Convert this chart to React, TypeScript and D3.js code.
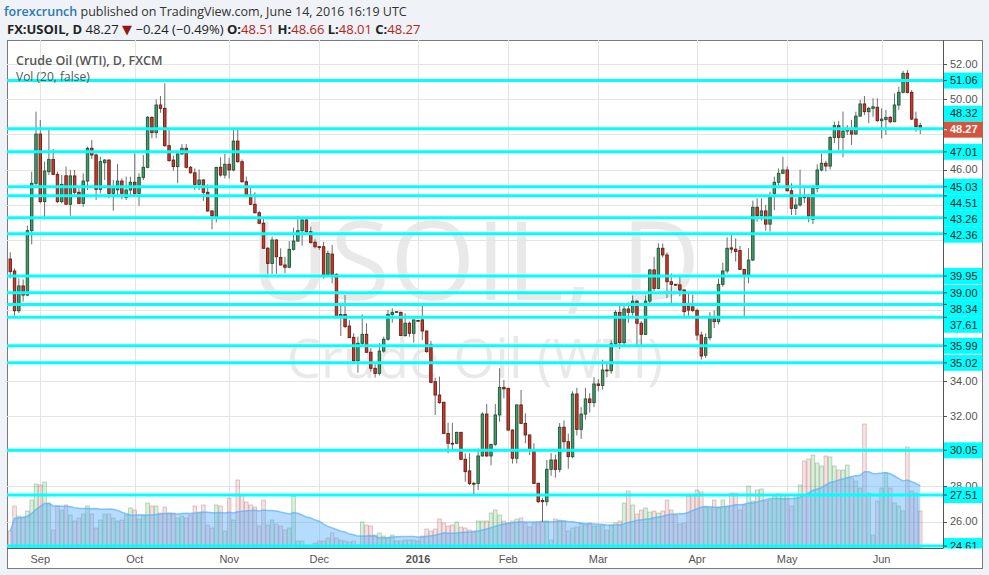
import React from 'react';
import * as d3 from 'd3';

// FX:USOIL daily candles, Aug 21 2015 .. Jun 14 2016
const opens = [
  40.92, 40.24, 37.98, 39.39, 38.87, 42.53, 45.22, 48.02, 44.18, 45.88,
  46.58, 45.73, 44.18, 45.65, 44.03, 45.64, 44.71, 44.08, 45.35, 47.21,
  46.83, 44.88, 46.39, 46.54, 44.65, 44.85, 45.35, 44.42, 44.84, 45.28,
  44.65, 45.56, 46.13, 48.97, 48.10, 49.67, 49.48, 47.36, 46.54, 46.17,
  46.89, 47.21, 46.13, 45.82, 45.16, 45.41, 44.71, 43.65, 43.32, 46.13,
  45.69, 46.30, 45.98, 47.62, 46.45, 45.31, 44.56, 44.03, 43.55, 42.95,
  41.53, 40.67, 42.00, 41.01, 40.58, 40.45, 41.47, 41.94, 42.53, 43.14,
  42.47, 41.87, 41.62, 41.62, 40.01, 41.20, 40.05, 37.64, 37.77, 37.11,
  36.47, 35.14, 36.13, 36.64, 35.62, 34.71, 34.42, 35.69, 36.36, 37.77,
  37.89, 37.89, 36.57, 37.27, 36.70, 37.43, 37.46, 36.83, 36.07, 33.95,
  33.19, 32.78, 31.01, 30.45, 30.45, 31.07, 29.54, 28.88, 28.17, 28.17,
  29.73, 32.11, 29.73, 30.39, 32.06, 33.63, 33.57, 31.20, 29.60, 32.63,
  31.58, 30.92, 30.03, 28.18, 27.20, 27.13, 28.97, 29.50, 28.97, 31.36,
  30.54, 29.69, 33.25, 31.24, 32.11, 32.97, 32.76, 33.82, 33.74, 34.61,
  34.57, 36.10, 37.89, 36.17, 38.08, 37.89, 38.53, 37.27, 36.64, 38.53,
  40.30, 39.25, 41.53, 41.15, 39.63, 39.48, 39.45, 39.16, 38.25, 38.20,
  38.00, 36.60, 35.45, 36.45, 37.55, 37.36, 39.48, 40.24, 41.55, 41.48,
  41.40, 40.33, 40.01, 40.86, 43.86, 43.38, 43.65, 42.90, 44.65, 45.28,
  45.79, 45.98, 44.80, 43.80, 43.99, 44.46, 44.46, 43.17, 44.94, 45.98,
  46.36, 46.20, 47.83, 48.50, 47.83, 48.19, 48.29, 48.02, 49.04, 49.73,
  49.29, 49.48, 49.54, 48.78, 48.85, 48.97, 48.72, 49.67, 50.39, 51.47,
  50.39, 48.87, 48.51,
];
const highs = [
  41.30, 40.39, 39.82, 39.76, 42.81, 45.88, 49.29, 48.82, 46.45, 48.25,
  47.17, 45.88, 45.69, 46.17, 45.98, 45.98, 45.03, 45.79, 47.30, 47.68,
  46.92, 46.73, 46.60, 46.60, 45.41, 46.32, 45.50, 45.60, 45.60, 46.92,
  45.79, 46.83, 49.05, 49.01, 49.99, 50.18, 50.90, 48.25, 46.79, 46.92,
  47.45, 47.45, 46.20, 46.07, 46.01, 45.45, 45.16, 43.70, 46.15, 46.70,
  46.89, 46.68, 48.25, 48.25, 46.58, 45.60, 44.97, 44.71, 43.65, 43.23,
  41.60, 42.19, 42.05, 41.53, 41.05, 41.94, 42.70, 43.38, 43.17, 43.23,
  42.76, 42.04, 41.65, 41.90, 41.40, 41.72, 40.10, 38.44, 38.87, 37.45,
  36.70, 36.51, 37.78, 37.27, 35.85, 34.94, 36.13, 36.51, 38.02, 38.12,
  37.95, 37.93, 37.83, 37.36, 37.46, 37.45, 38.25, 36.85, 36.26, 34.18,
  34.24, 32.80, 31.62, 31.62, 31.11, 31.10, 29.88, 29.88, 28.27, 30.16,
  32.21, 32.68, 30.40, 32.68, 34.71, 34.05, 33.60, 31.25, 32.65, 33.48,
  32.15, 30.95, 30.45, 28.20, 27.35, 29.50, 29.90, 29.80, 31.60, 31.75,
  31.00, 33.40, 33.60, 32.50, 33.60, 33.30, 34.20, 34.10, 35.20, 35.00,
  36.30, 38.00, 38.30, 38.40, 38.45, 38.85, 38.60, 37.40, 38.85, 40.35,
  41.05, 41.81, 41.80, 41.30, 40.10, 39.50, 40.00, 39.20, 39.00, 38.90,
  38.10, 36.80, 36.70, 37.90, 38.00, 39.80, 40.71, 42.15, 42.28, 42.10,
  41.66, 40.33, 41.53, 44.24, 44.37, 44.37, 43.99, 44.75, 45.60, 46.07,
  46.73, 46.17, 45.22, 44.37, 46.00, 45.00, 44.60, 45.10, 46.30, 46.90,
  46.50, 47.90, 48.72, 48.76, 49.30, 48.53, 48.82, 49.29, 49.96, 50.18,
  49.57, 50.05, 50.05, 49.48, 49.39, 49.04, 50.33, 50.71, 51.62, 51.66,
  50.52, 49.29, 48.66,
];
const lows = [
  39.82, 37.70, 37.85, 38.50, 38.80, 41.75, 45.03, 44.08, 43.17, 45.69,
  45.69, 44.10, 44.08, 44.00, 43.38, 44.56, 44.05, 43.89, 44.84, 46.60,
  44.27, 44.65, 45.41, 44.37, 43.67, 44.46, 44.31, 44.27, 44.56, 44.56,
  43.95, 45.41, 46.07, 47.78, 47.78, 49.23, 47.30, 46.45, 45.94, 45.22,
  46.85, 46.07, 45.78, 44.84, 44.84, 44.23, 43.60, 42.61, 43.00, 45.60,
  45.50, 45.50, 45.90, 46.40, 45.25, 44.46, 43.98, 43.50, 42.90, 41.50,
  40.07, 40.07, 40.07, 40.55, 40.11, 40.40, 41.40, 41.90, 41.68, 42.28,
  41.81, 41.53, 41.43, 39.82, 39.95, 39.54, 37.55, 36.54, 37.00, 36.45,
  35.09, 34.46, 36.00, 35.60, 34.52, 34.18, 34.30, 35.60, 36.28, 37.30,
  37.85, 36.55, 36.50, 36.50, 36.17, 37.40, 36.32, 35.60, 33.90, 32.06,
  32.70, 31.00, 29.88, 30.07, 30.40, 29.50, 28.27, 28.08, 27.51, 27.80,
  29.70, 29.68, 29.20, 30.30, 31.68, 33.00, 31.18, 29.30, 29.30, 31.58,
  30.45, 29.78, 28.17, 27.05, 25.99, 26.90, 28.60, 28.50, 28.80, 30.00,
  29.00, 29.60, 30.90, 30.70, 31.80, 32.20, 32.50, 33.40, 33.50, 34.20,
  34.40, 35.95, 35.80, 36.00, 37.30, 37.70, 36.03, 36.03, 36.60, 38.40,
  39.10, 39.20, 41.00, 38.70, 38.40, 39.40, 38.80, 37.60, 37.70, 37.90,
  36.30, 35.20, 35.30, 36.30, 37.00, 37.20, 39.35, 40.10, 41.24, 40.77,
  40.30, 37.68, 39.54, 40.80, 43.04, 43.10, 42.53, 42.47, 43.70, 44.94,
  45.75, 44.75, 43.42, 43.42, 43.90, 44.10, 43.00, 42.90, 44.70, 45.90,
  45.90, 46.00, 47.50, 47.10, 46.70, 47.97, 47.40, 47.97, 49.00, 49.10,
  48.63, 49.00, 48.72, 47.77, 47.97, 48.63, 48.72, 49.39, 50.33, 50.33,
  48.82, 48.15, 48.01,
];
const closes = [
  40.20, 37.98, 39.39, 38.87, 42.53, 45.22, 48.02, 44.18, 45.92, 46.58,
  45.73, 44.18, 45.16, 44.03, 45.64, 44.71, 44.08, 45.35, 47.21, 46.83,
  44.88, 46.45, 46.54, 44.65, 45.03, 45.35, 44.65, 44.84, 45.28, 44.65,
  45.56, 46.13, 48.97, 48.10, 49.67, 49.48, 47.36, 46.51, 46.17, 46.89,
  47.21, 46.13, 45.82, 45.16, 45.41, 44.71, 43.65, 43.38, 46.13, 45.69,
  46.30, 45.98, 47.62, 46.45, 45.31, 44.56, 44.03, 43.55, 42.95, 41.53,
  40.67, 42.00, 41.05, 40.58, 40.45, 41.47, 41.94, 42.53, 43.14, 42.47,
  41.85, 41.62, 41.60, 40.01, 41.24, 40.05, 37.64, 37.77, 37.08, 36.45,
  35.14, 36.13, 36.64, 35.62, 34.71, 34.42, 35.69, 36.36, 37.77, 37.89,
  37.93, 36.57, 37.27, 36.70, 37.46, 37.42, 36.83, 35.66, 33.91, 33.19,
  32.76, 31.01, 30.45, 30.43, 31.07, 29.54, 28.84, 28.17, 28.15, 29.73,
  32.11, 29.73, 30.39, 32.06, 33.63, 33.54, 31.20, 29.60, 32.63, 31.58,
  30.92, 30.03, 28.17, 27.13, 27.13, 28.97, 29.50, 28.97, 31.36, 30.54,
  29.69, 33.25, 31.24, 32.11, 32.97, 32.76, 33.82, 33.74, 34.61, 34.57,
  36.10, 37.89, 36.17, 38.08, 37.89, 38.53, 37.27, 36.64, 38.53, 40.30,
  39.25, 41.53, 41.15, 39.63, 39.48, 39.45, 39.16, 37.93, 38.02, 38.00,
  36.60, 35.41, 36.45, 37.65, 37.36, 39.48, 40.24, 41.53, 41.48, 41.35,
  40.33, 40.01, 40.86, 43.86, 43.38, 43.65, 42.90, 44.46, 45.28, 45.79,
  45.98, 44.80, 43.80, 43.99, 44.46, 44.40, 43.36, 44.94, 45.98, 46.36,
  46.20, 47.83, 48.50, 47.83, 48.19, 48.29, 48.02, 49.04, 49.73, 49.29,
  49.48, 49.57, 48.78, 48.87, 48.97, 48.72, 49.67, 50.39, 51.47, 50.39,
  48.87, 48.44, 48.27,
];
// tick volume, same order
const volumes = [
  17, 42, 32, 31, 37, 48, 64, 63, 66,
  45, 18, 42, 38, 43, 33, 27, 30, 34, 42, 34, 20, 28, 34, 34, 30, 27, 28, 33, 40,
  38, 29, 33, 45, 42, 42, 35, 41, 35, 35, 30, 32, 30, 33, 42, 36, 43, 23, 20, 43,
  42, 17, 50, 28, 68, 53, 46, 43, 41, 22, 48, 23, 28, 24, 22, 18, 20, 52,
  7, 7, 1, 2, 5, 7, 7, 10, 15, 10, 8, 7, 6, 7, 3, 26, 23, 22, 13, 15, 12, 10, 13,
  7, 7, 8, 8, 8, 7, 12, 19, 17, 19, 29, 25, 22, 23, 26, 21, 20, 18, 17,
  27, 27, 27, 35, 38, 33, 27, 25, 27, 29, 30, 25, 21, 25, 25, 27, 27, 8, 29, 28,
  27, 17, 20, 21, 25, 23, 25, 22, 22, 23, 18, 23, 25, 27, 45, 57, 43, 34, 38, 40,
  36, 37, 35, 37, 48, 38, 33, 24, 25, 52, 53, 58, 56, 41, 40, 48, 40, 48, 42, 55,
  55, 38, 43, 62, 47, 58, 59, 47, 48, 52, 54, 53, 53,
  42, 53, 63, 87, 89, 93, 85, 82, 92, 91, 82, 78, 78, 83, 70, 67, 60, 124, 55, 13,
  47, 60, 75, 60, 45, 42, 37, 101, 57, 55, 37,
];

// horizontal levels drawn by the author
const levels = [51.06, 48.32, 47.01, 45.03, 44.51, 43.26, 42.36, 39.95, 39.0, 38.34, 37.61, 35.99, 35.02, 30.05, 27.51, 24.61];
const priceTicks = [26, 28, 30, 32, 34, 36, 38, 40, 42, 44, 46, 48, 50, 52];
const monthLabels = ['Sep', 'Oct', 'Nov', 'Dec', '2016', 'Feb', 'Mar', 'Apr', 'May', 'Jun'];
const lastClose = 48.27;

const W = 989;
const H = 575;
const L = 7;
const R = 943;
const T = 40;
const B = 548.5;

// FXCM prints a bar for every weekday, holidays included
const days = d3.timeDay
  .range(new Date(2015, 7, 21), new Date(2016, 5, 15))
  .filter((d) => d.getDay() !== 0 && d.getDay() !== 6);
const fmt = d3.timeFormat('%Y-%m-%d');

const x = d3.scaleBand<string>().domain(days.map(fmt)).range([8.1, 922.4]);
const cx = (i: number) => (x(fmt(days[i])) as number) + x.bandwidth() / 2;
const y = d3.scaleLinear().domain([26, 52]).range([521.6, 64]);
const vy = d3.scaleLinear().domain([0, 130]).range([548, 418]);

const volMa = volumes.map((_, i) => d3.mean(volumes.slice(Math.max(0, i - 19), i + 1)) as number);
const maArea = d3
  .area<number>()
  .x((_, i) => cx(i))
  .y0(548)
  .y1((d) => vy(d));
const maLine = d3
  .line<number>()
  .x((_, i) => cx(i))
  .y((d) => vy(d));

// first bar of each month after August
const monthStarts = days
  .map((d, i) => ({ d, i }))
  .filter(({ d, i }) => i > 0 && d.getMonth() !== days[i - 1].getMonth());

// price labels on the axis, nudged so they don't overlap (close label stays put)
const LH = 16;
function layoutLabels() {
  const items = levels.map((v) => ({ v, y: y(v), close: false }));
  items.push({ v: lastClose, y: y(lastClose), close: true });
  items.sort((a, b) => a.y - b.y);
  const k = items.findIndex((d) => d.close);
  for (let i = k - 1; i >= 0; i--) items[i].y = Math.min(items[i].y, items[i + 1].y - LH);
  for (let i = k + 1; i < items.length; i++) items[i].y = Math.max(items[i].y, items[i - 1].y + LH);
  return items;
}
const axisLabels = layoutLabels();
// plain tick labels that sit under a level label are hidden behind it
const visibleTicks = priceTicks.filter((t) => axisLabels.every((d) => Math.abs(d.y - y(t)) >= 8));

const UP = '#44996a';
const UP_EDGE = '#1f5435';
const DN = '#c63b2b';
const DN_EDGE = '#6a1c13';
const AXIS_FONT = "'Liberation Sans', Arial, sans-serif";
const UI_FONT = "'Open Sans', 'DejaVu Sans', sans-serif";

const fix = (v: number) => Math.round(v) + 0.5;

const App: React.FC = () => {
  const bw = x.bandwidth() * 0.58;
  const vbw = x.bandwidth() * 0.84;

  return (
    <div style={{ position: 'absolute', left: 0, top: 0 }}>
      <svg width={W} height={H} style={{ display: 'block' }}>
        <defs>
          <clipPath id="plot">
            <rect x={L} y={T} width={R - L} height={B - T} />
          </clipPath>
          <clipPath id="paxis">
            <rect x={R} y={T} width={W - R} height={B - T} />
          </clipPath>
        </defs>
        <rect width={W} height={H} fill="#eff2f6" />

        {/* header */}
        <text x={4} y={16} fontFamily={UI_FONT} fontSize={12.5} fill="#333">
          <tspan fill="#2b78b4" fontWeight={600}>forexcrunch</tspan>
          <tspan> published on TradingView.com, June 14, 2016 16:19 UTC</tspan>
        </text>
        <text x={7} y={34} fontFamily={UI_FONT} fontSize={13} fill="#222">
          <tspan fontWeight={700}>FX:USOIL, D</tspan>
          <tspan> 48.27 </tspan>
          <tspan fill="#8e1b12">▼</tspan>
          <tspan> −0.24 (−0.49%) </tspan>
          <tspan fontWeight={700}>O:</tspan>
          <tspan fill="#b3261b">48.51</tspan>
          <tspan fontWeight={700}> H:</tspan>
          <tspan fill="#b3261b">48.66</tspan>
          <tspan fontWeight={700}> L:</tspan>
          <tspan fill="#b3261b">48.01</tspan>
          <tspan fontWeight={700}> C:</tspan>
          <tspan fill="#b3261b">48.27</tspan>
        </text>

        {/* chart frame */}
        <rect x={L + 0.5} y={T + 0.5} width={982 - L} height={568 - T} fill="#fff" stroke="#7a7a7a" />

        <g clipPath="url(#plot)">
          {/* watermark */}
          <text x={(L + R) / 2} y={300} textAnchor="middle" fontFamily={UI_FONT} fontSize={110} fill="#000" fillOpacity={0.085}>
            USOIL, D
          </text>
          <text x={(L + R) / 2} y={378} textAnchor="middle" fontFamily={UI_FONT} fontSize={54} fill="#000" fillOpacity={0.085}>
            Crude Oil (WTI)
          </text>

          {/* grid */}
          {priceTicks.map((t) => (
            <line key={t} x1={L} x2={R} y1={fix(y(t))} y2={fix(y(t))} stroke="#e4e4e4" />
          ))}
          {monthStarts.map(({ i }) => (
            <line key={i} x1={fix(cx(i))} x2={fix(cx(i))} y1={T} y2={B} stroke="#e4e4e4" />
          ))}

          {/* volume */}
          {volumes.map((v, i) => {
            const up = closes[i] >= opens[i];
            return (
              <rect
                key={i}
                x={cx(i) - vbw / 2}
                y={vy(v)}
                width={vbw}
                height={548 - vy(v)}
                fill={up ? 'rgba(76,175,80,0.2)' : 'rgba(210,110,110,0.2)'}
                stroke={up ? 'rgba(40,130,50,0.35)' : 'rgba(160,70,70,0.35)'}
                strokeWidth={0.8}
              />
            );
          })}
          <path d={maArea(volMa) ?? undefined} fill="rgba(90,175,250,0.45)" />
          <path d={maLine(volMa) ?? undefined} fill="none" stroke="rgba(90,175,250,0.7)" strokeWidth={1.5} />

          {/* candles */}
          {opens.map((o, i) => {
            const c = closes[i];
            const up = c >= o;
            const top = y(Math.max(o, c));
            const h = Math.max(y(Math.min(o, c)) - top, 0.8);
            return (
              <g key={i}>
                <line x1={cx(i)} x2={cx(i)} y1={y(highs[i])} y2={y(lows[i])} stroke="#6d6d6d" />
                <rect
                  x={cx(i) - bw / 2}
                  y={top}
                  width={bw}
                  height={h}
                  fill={up ? UP : DN}
                  stroke={up ? UP_EDGE : DN_EDGE}
                  strokeWidth={0.9}
                />
              </g>
            );
          })}

          {/* levels */}
          {levels.map((v) => (
            <line key={v} x1={L} x2={R} y1={y(v)} y2={y(v)} stroke="#00ffff" strokeWidth={3} />
          ))}
        </g>

        {/* legend */}
        <text x={16} y={65} fontFamily={UI_FONT} fontSize={12.5} fontWeight={600} fill="#555">
          Crude Oil (WTI), D, FXCM
        </text>
        <text x={16} y={81} fontFamily={UI_FONT} fontSize={12} fill="#555">
          Vol (20, false)
        </text>

        {/* price axis */}
        <g clipPath="url(#paxis)" fontFamily={AXIS_FONT} fontSize={11}>
          {priceTicks.map((t) => (
            <line key={t} x1={R} x2={R + 4} y1={fix(y(t))} y2={fix(y(t))} stroke="#555" />
          ))}
          {visibleTicks.map((t) => (
            <text key={t} x={950} y={y(t)} dy="0.35em" fill="#555">
              {t.toFixed(2)}
            </text>
          ))}
          {axisLabels.map((d) => (
            <g key={d.v + (d.close ? 'c' : '')}>
              <rect x={R + 0.5} y={d.y - LH / 2} width={39} height={LH} fill={d.close ? '#d4553f' : '#00ffff'} />
              <line x1={R} x2={R + 4} y1={y(d.v)} y2={y(d.v)} stroke={d.close ? '#fff' : '#333'} />
              <text x={950} y={d.y} dy="0.35em" fill={d.close ? '#fff' : '#222'} fontWeight={d.close ? 700 : 400}>
                {d.v.toFixed(2)}
              </text>
            </g>
          ))}
        </g>
        <line x1={fix(R)} x2={fix(R)} y1={T} y2={B} stroke="#555" />

        {/* time axis */}
        <line x1={L} x2={R} y1={B} y2={B} stroke="#555" />
        {monthStarts.map(({ i }, k) => (
          <text
            key={i}
            x={cx(i)}
            y={563}
            textAnchor="middle"
            fontFamily={AXIS_FONT}
            fontSize={11}
            fill="#555"
            fontWeight={monthLabels[k] === '2016' ? 700 : 400}
          >
            {monthLabels[k]}
          </text>
        ))}
      </svg>
    </div>
  );
};

export default App;
